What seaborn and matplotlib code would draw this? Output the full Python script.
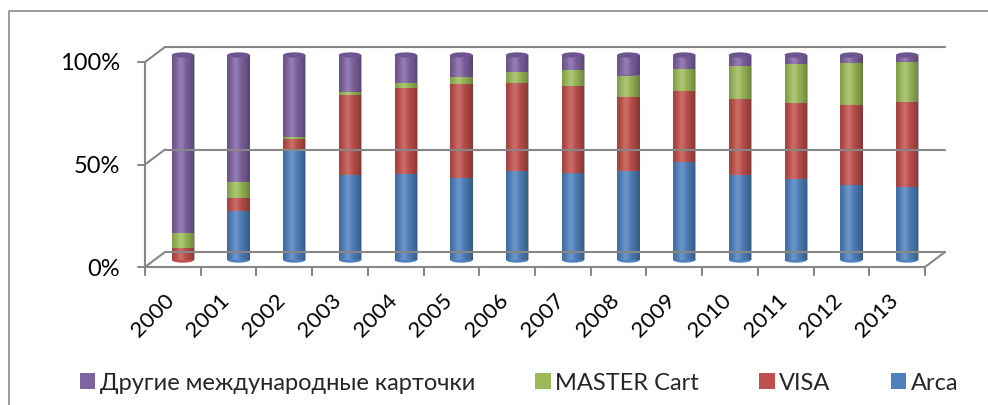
import numpy as np
import pandas as pd
import matplotlib
matplotlib.use("Agg")
import matplotlib.pyplot as plt
import seaborn as sns
from matplotlib.transforms import ScaledTranslation, IdentityTransform
from matplotlib.lines import Line2D
from matplotlib.patches import Ellipse, Patch, Rectangle

# ---------------- data ----------------
years = [str(y) for y in range(2000, 2014)]
arca = [0, 24, 53, 41.5, 42, 40, 43.5, 42.5, 43.5, 48, 41.5, 39.5, 36.5, 35.5]
visa = [6, 6, 6, 39, 42, 46, 43, 42.5, 36, 34.5, 37, 37, 39, 41.5]
master = [7, 8, 1, 1.5, 2.5, 3.5, 5, 7.5, 10.5, 10.5, 16, 19, 20.5, 19.5]
other = [87, 62, 40, 18, 13.5, 10.5, 8.5, 7.5, 10, 7, 5.5, 4.5, 4, 3.5]
series_names = ["Arca", "VISA", "MASTER Cart", "Другие международные карточки"]
series_colors = ["#4F81BD", "#C0504D", "#9BBB59", "#8064A2"]
y_ticks = [0, 50, 100]
y_ticklabels = ["0%", "50%", "100%"]

df = pd.DataFrame({"year": years, "Arca": arca, "VISA": visa,
                   "MASTER Cart": master, "Другие международные карточки": other})

# ---------------- style ----------------
sns.set_theme(style="white")
plt.rcParams["font.family"] = ["Lato", "DejaVu Sans"]
FS = 17
GRID = "#878787"

W, H = 988, 405
fig = plt.figure(figsize=(W / 100, H / 100), dpi=100)
fig.patch.set_facecolor("white")
# mid-depth plane of the pseudo-3D plot
ax = fig.add_axes([155 / W, 1 - 260 / H, 780 / W, 205 / H])
ax.set_facecolor("none")

bottom = np.zeros(len(years))
for name, col in zip(series_names, series_colors):
    sns.barplot(data=df, x="year", y=name, color=col, width=0.4, bottom=bottom,
                saturation=1, errorbar=None, linewidth=0, ax=ax, zorder=3)
    bottom = bottom + df[name].values

ax.set_xlim(-0.5, len(years) - 0.5)
ax.set_ylim(0, 100)
ax.set_xlabel("")
ax.set_ylabel("")
ax.set_xticks([])
ax.set_yticks([])
for s in ax.spines.values():
    s.set_visible(False)

# cylinder shading on each bar
g = np.linspace(0, 1, 80)
dark = np.zeros((1, 80, 4))
dark[..., 3] = 0.32 * (np.abs(g - 0.40) / 0.60) ** 1.6
light = np.ones((1, 80, 4))
light[..., 3] = 0.16 * np.exp(-((g - 0.38) / 0.16) ** 2)
for p in list(ax.patches):
    if isinstance(p, Rectangle) and p.get_height() > 0:
        x0, y0 = p.get_x(), p.get_y()
        ext = (x0, x0 + p.get_width(), y0, y0 + p.get_height())
        for im_arr, z in ((dark, 3.5), (light, 3.6)):
            im = ax.imshow(im_arr, extent=ext, aspect="auto", interpolation="bilinear", zorder=z)
            im.set_clip_path(p)

# top caps and rounded bottoms
stack = np.array([arca, visa, master, other])
for i in range(len(years)):
    nz = np.nonzero(stack[:, i])[0]
    bcol = series_colors[nz[0]]
    ax.add_patch(Ellipse((i, 0), 0.4, 2.6, facecolor=bcol, edgecolor="none",
                         zorder=2.5, clip_on=False))
    ax.add_patch(Ellipse((i, 100), 0.4, 2.6, facecolor="#6E5592", edgecolor="none",
                         zorder=4, clip_on=False))

ax.set_xlim(-0.5, len(years) - 0.5)
ax.set_ylim(0, 100)

# ---------------- pseudo-3D frame ----------------
def off(dx, dy):
    return ax.transData + ScaledTranslation(dx / 100, dy / 100, fig.dpi_scale_trans)

FRONT = (-10, -7)
BACK = (10, 8)
fig.canvas.draw()

def disp(x, y, o, extra=(0, 0)):
    X, Y = ax.transData.transform((x, y))
    return X + o[0] + extra[0], Y + o[1] + extra[1]

def seg(p1, p2, **kw):
    fig.add_artist(Line2D([p1[0], p2[0]], [p1[1], p2[1]], transform=IdentityTransform(),
                          color=GRID, lw=1.5, zorder=1, **kw))

xl, xr = -0.5, len(years) - 0.5
for v in y_ticks:
    seg(disp(xl, v, BACK), disp(xr, v, BACK))          # back wall grid
    seg(disp(xl, v, FRONT), disp(xl, v, BACK))         # side wall diagonals
    seg(disp(xl, v, FRONT), disp(xl, v, FRONT, (-7, 0)))  # y tick marks
seg(disp(xl, 0, FRONT), disp(xl, 100, FRONT))          # front value axis
seg(disp(xl, 0, FRONT), disp(xr, 0, FRONT))            # front floor edge
seg(disp(xr, 0, FRONT), disp(xr, 0, BACK))             # right floor edge
for k in range(len(years) + 1):
    seg(disp(k - 0.5, 0, FRONT), disp(k - 0.5, 0, FRONT, (0, -8)))

# tick labels
for i, yr in enumerate(years):
    ax.text(i, 0, yr, transform=off(-12, -37), rotation=45, ha="right", va="center",
            rotation_mode="anchor", fontsize=16, color="black", clip_on=False)
for v, lab in zip(y_ticks, y_ticklabels):
    ax.text(xl, v, lab, transform=off(-35, -9), ha="right", va="center",
            fontsize=FS, color="black", clip_on=False)

# chart-area border (left and top visible)
fig.add_artist(Line2D([9 / W, 9 / W, 1.0], [0.0, 1 - 11 / H, 1 - 11 / H],
                      transform=fig.transFigure, color="#8a8a8a", lw=1.2))

# legend
order = [3, 2, 1, 0]
handles = [Patch(facecolor=series_colors[i], edgecolor="none") for i in order]
labels = [series_names[i] for i in order]
fig.legend(handles, labels, loc="center", bbox_to_anchor=(519 / W, 1 - 383 / H),
           ncol=4, frameon=False, fontsize=FS, handlelength=0.65, handleheight=0.65,
           handletextpad=0.2, columnspacing=2.55, borderaxespad=0, borderpad=0)

fig.savefig("out.png", dpi=100)
